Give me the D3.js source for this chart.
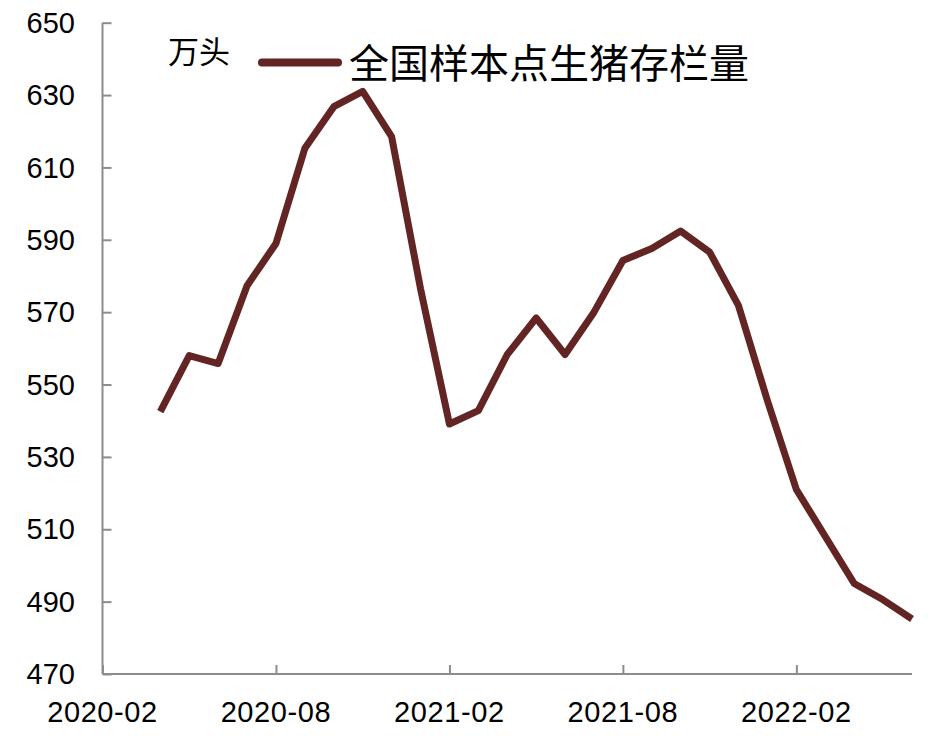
<!DOCTYPE html>
<html>
<head>
<meta charset="utf-8">
<script src="https://cdn.jsdelivr.net/npm/d3@7"></script>
<style>
  html, body { margin: 0; padding: 0; background: #fff; }
  svg { display: block; }
</style>
</head>
<body>
<svg id="chart" width="949" height="736"></svg>
<script>
// ---- data ----
const axisMonths = ["2020-02","2020-03","2020-04","2020-05","2020-06","2020-07","2020-08","2020-09","2020-10","2020-11","2020-12",
  "2021-01","2021-02","2021-03","2021-04","2021-05","2021-06","2021-07","2021-08","2021-09","2021-10","2021-11","2021-12",
  "2022-01","2022-02","2022-03","2022-04","2022-05","2022-06"];
const months = ["2020-04","2020-05","2020-06","2020-07","2020-08","2020-09","2020-10","2020-11","2020-12",
  "2021-01","2021-02","2021-03","2021-04","2021-05","2021-06","2021-07","2021-08","2021-09","2021-10","2021-11","2021-12",
  "2022-01","2022-02","2022-03","2022-04","2022-05","2022-06"];
const stock = [542.5, 558, 555.8, 577.3, 589, 615.3, 626.8, 631, 618.5,
  576.5, 539.1, 542.8, 558.3, 568.4, 558.3, 570, 584.3, 587.6, 592.4, 586.6, 571.8,
  545.5, 521, 508, 495, 490.5, 485.2];
const xTicks = ["2020-02","2020-08","2021-02","2021-08","2022-02"];
const yTicks = [470, 490, 510, 530, 550, 570, 590, 610, 630, 650];
const unitLabel = "万头";
const seriesName = "全国样本点生猪存栏量";

// ---- layout ----
(function () {
const svg = d3.select("#chart");
const mLeft = 102.5, mRight = 912, mTop = 22.7, mBottom = 674;
const axisColor = "#8c8c8c";
const lineColor = "#632523";
const numFont = "'Liberation Sans', Arial, sans-serif";
const cjkFont = "'Noto Sans CJK SC', sans-serif";

const x = d3.scalePoint().domain(axisMonths).range([mLeft, mRight]);
const y = d3.scaleLinear().domain([470, 650]).range([mBottom, mTop]);

// y axis
const yAxis = svg.append("g")
  .attr("transform", `translate(${mLeft},0)`)
  .call(d3.axisRight(y).tickValues(yTicks).tickSize(9).tickFormat(""));
yAxis.select(".domain").attr("stroke", axisColor).attr("stroke-width", 2).attr("d", `M0,${mTop}V${mBottom}`);
yAxis.selectAll(".tick line").attr("stroke", axisColor).attr("stroke-width", 2);

svg.append("g").selectAll("text").data(yTicks).join("text")
  .attr("x", 75).attr("y", d => y(d)).attr("dy", "0.35em")
  .attr("text-anchor", "end")
  .style("font-family", numFont).style("font-size", "29px").attr("fill", "#000")
  .text(d => d);

// x axis
const xAxis = svg.append("g")
  .attr("transform", `translate(0,${mBottom})`)
  .call(d3.axisTop(x).tickValues(xTicks).tickSize(9).tickFormat(""));
xAxis.select(".domain").attr("stroke", axisColor).attr("stroke-width", 2).attr("d", `M${mLeft},0H${mRight}`);
xAxis.selectAll(".tick line").attr("stroke", axisColor).attr("stroke-width", 2);

svg.append("g").selectAll("text").data(xTicks).join("text")
  .attr("x", d => x(d)).attr("y", 722)
  .attr("text-anchor", "middle")
  .style("font-family", numFont).style("font-size", "29px")
  .style("letter-spacing", "0.6px").attr("fill", "#000")
  .text(d => d);

// line
const data = months.map((m, i) => ({ m, v: stock[i] }));
svg.append("path")
  .datum(data)
  .attr("fill", "none")
  .attr("stroke", lineColor)
  .attr("stroke-width", 7)
  .attr("stroke-linejoin", "round")
  .attr("d", d3.line().x(d => x(d.m)).y(d => y(d.v)));

// unit label
svg.append("text")
  .attr("x", 168).attr("y", 52).attr("dy", "0.35em")
  .style("font-family", cjkFont).style("font-size", "31px").attr("fill", "#000")
  .text(unitLabel);

// legend
svg.append("line")
  .attr("x1", 262).attr("x2", 338).attr("y1", 62.5).attr("y2", 62.5)
  .attr("stroke", lineColor).attr("stroke-width", 8).attr("stroke-linecap", "round");
svg.append("text")
  .attr("x", 349).attr("y", 64).attr("dy", "0.35em")
  .style("font-family", cjkFont).style("font-size", "40px").attr("fill", "#000")
  .text(seriesName);
})();
</script>
</body>
</html>
